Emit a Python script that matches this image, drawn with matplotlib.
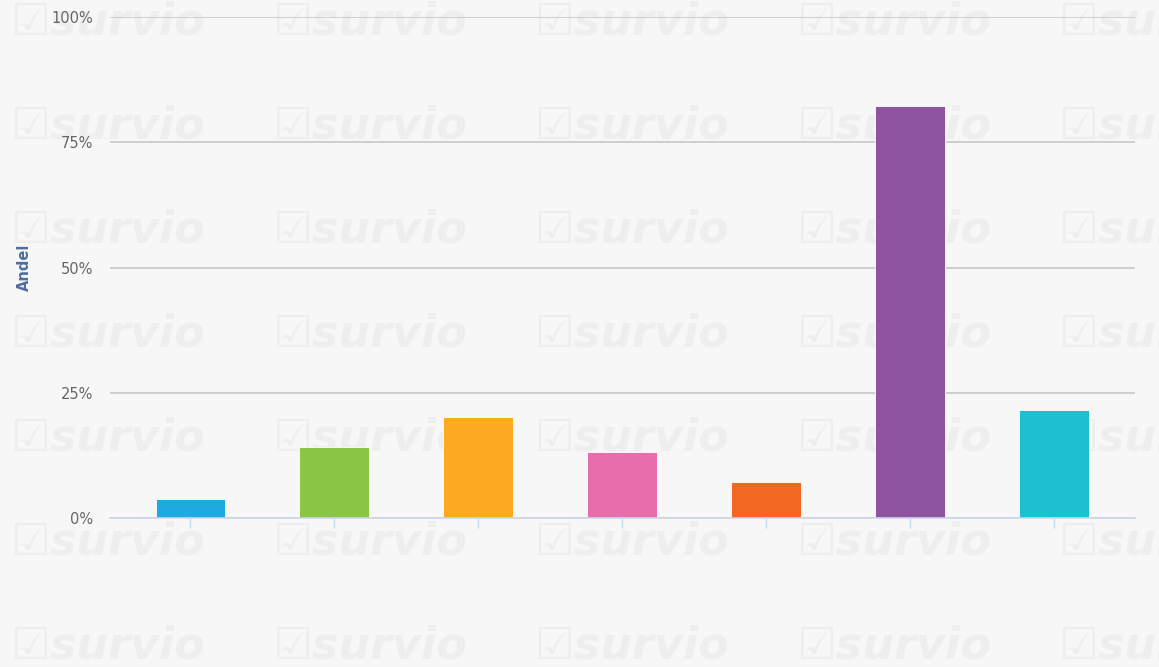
import matplotlib.pyplot as plt
from matplotlib.ticker import FuncFormatter

# data (share in percent)
positions = [0, 1, 2, 3, 4, 5, 6]
shares = [3.8, 14.2, 20.2, 13.2, 7.2, 82.2, 21.6]
colors = ["#1ea9e1", "#8bc546", "#fbaa21", "#e76ead", "#f26722", "#8e54a0", "#1ebfd1"]
y_ticks = [0, 25, 50, 75, 100]

fig = plt.figure(figsize=(11.59, 6.67), dpi=100)
fig.patch.set_facecolor("#f7f7f7")

# survio watermark tiles behind everything
for col in range(5):
    for row in range(7):
        fig.text(
            (10 + col * 262) / 1159,
            1 - (22 + row * 104) / 667,
            "\u2611survio",
            fontsize=32,
            fontweight="bold",
            fontstyle="italic",
            color="#eeeeee",
            va="center",
            ha="left",
            zorder=-5,
        )

ax = fig.add_axes([110 / 1159, 149 / 667, 1025 / 1159, 501 / 667])
ax.set_facecolor("none")

ax.bar(positions, shares, width=0.48, color=colors, edgecolor="#ffffff", linewidth=0.6, zorder=3)

ax.set_ylim(0, 100)
ax.set_xlim(-0.556, 6.5625)
ax.set_yticks(y_ticks)
ax.yaxis.set_major_formatter(FuncFormatter(lambda v, p: f"{v:.0f}%"))
ax.set_xticks(positions)
ax.set_xticklabels([])

ax.grid(axis="y", color="#c4c4c4", linewidth=1.1, zorder=1)
ax.tick_params(axis="y", length=0, pad=12, labelsize=10.5, labelcolor="#666666")
ax.tick_params(axis="x", length=7, width=1, color="#ccd6eb", direction="out")

for side in ["top", "right", "left"]:
    ax.spines[side].set_visible(False)
ax.spines["bottom"].set_color("#ccd6eb")
ax.spines["bottom"].set_linewidth(1.2)
ax.spines["bottom"].set_zorder(4)

ax.set_ylabel("Andel", color="#4d6f9f", fontweight="bold", fontsize=10.5, labelpad=14)

fig.savefig("out.png", dpi=100, facecolor=fig.get_facecolor())
